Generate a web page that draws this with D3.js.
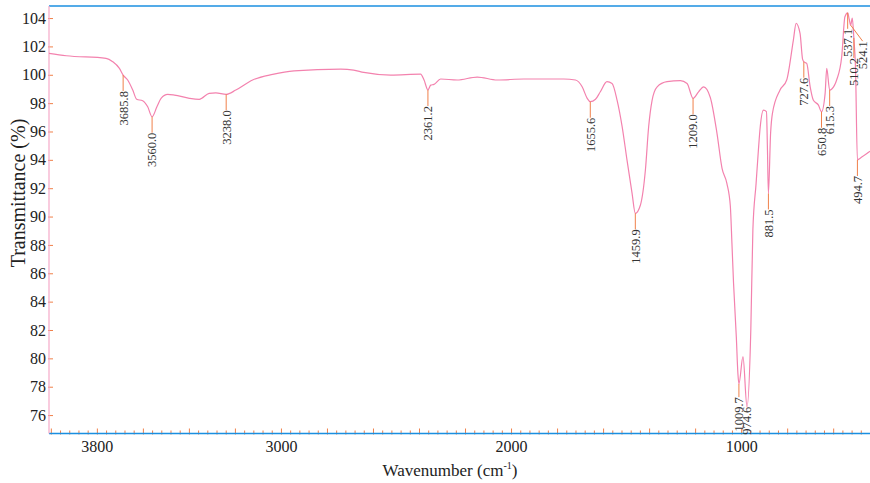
<!DOCTYPE html>
<html>
<head>
<meta charset="utf-8">
<script src="https://cdn.jsdelivr.net/npm/d3@7"></script>
<style>
  body { margin: 0; background: #fff; }
  svg { display: block; }
  text { font-family: "Liberation Serif", "Times New Roman", serif; }
</style>
</head>
<body>
<svg id="chart" width="870" height="483"></svg>
<script>
// spectrum (wavenumber in cm-1, transmittance in %)
const wavenumber = [
    4008, 3933, 3760, 3731, 3702, 3685.8, 3666, 3644, 3627, 3601, 3579, 3560.0, 3539, 3521,
    3492, 3463, 3398, 3355, 3312, 3283, 3238.0, 3196, 3123, 3036, 2943, 2740, 2684, 2640,
    2523, 2393, 2378, 2361.2, 2349, 2335, 2306, 2234, 2147, 2060, 1944, 1771, 1720, 1691,
    1669, 1655.6, 1633, 1612, 1583, 1561, 1539, 1517, 1496, 1474, 1459.9, 1438, 1416, 1402,
    1387, 1365, 1322, 1264, 1235, 1209.0, 1185, 1163, 1134, 1105, 1083, 1062, 1047, 1040,
    1033, 1021, 1014, 1009.7, 992, 974.6, 958, 949, 935, 925, 917, 903, 890, 886, 881.5,
    872, 864, 831, 802, 773, 761, 744, 733, 727.6, 715, 700, 686, 664, 650.8, 635, 628,
    615.3, 606, 585, 563, 549, 537.1, 530, 524.1, 517, 510.2, 503, 494.7, 484, 440
];
const transmittance = [
    101.51, 101.34, 101.16, 100.92, 100.45, 99.98, 99.63, 98.92, 98.27, 98.17, 97.74, 97.04, 97.74, 98.34,
    98.62, 98.57, 98.34, 98.27, 98.69, 98.73, 98.62, 98.92, 99.63, 100.03, 100.28, 100.40, 100.33, 100.17,
    99.98, 100.05, 99.63, 98.92, 99.27, 99.32, 99.70, 99.63, 99.84, 99.63, 99.70, 99.70, 99.63, 99.15,
    98.34, 98.10, 98.27, 98.80, 99.51, 99.39, 98.20, 96.33, 93.98, 91.63, 90.23, 90.80, 93.30, 96.33,
    98.20, 99.15, 99.51, 99.58, 99.39, 98.34, 98.80, 99.15, 98.40, 95.87, 93.40, 92.34, 90.74, 88.11,
    85.29, 81.52, 78.90, 78.20, 80.12, 76.59, 82.00, 89.05, 92.34, 94.70, 96.33, 97.50, 97.40, 95.00, 91.63,
    95.87, 97.28, 98.92, 99.63, 102.45, 103.63, 102.92, 101.10, 100.92, 100.80, 99.15, 98.20, 97.86, 97.39, 98.69, 100.45,
    98.92, 99.00, 99.63, 101.27, 104.09, 104.37, 103.90, 103.50, 104.00, 102.60, 100.50, 93.99, 94.10, 94.60
];

// picked peaks
const peakWavenumbers = [3685.8, 3560.0, 3238.0, 2361.2, 1655.6, 1459.9, 1209.0, 1009.7, 974.6,
    881.5, 727.6, 650.8, 615.3, 537.1, 524.1, 510.2, 494.7];
const peakLabels = ['3685.8', '3560.0', '3238.0', '2361.2', '1655.6', '1459.9', '1209.0', '1009.7', '974.6',
    '881.5', '727.6', '650.8', '615.3', '537.1', '524.1', '510.2', '494.7'];

// axes
const xDomain = [4008, 440];
const yDomain = [74.70, 104.85];
const xTickLabels = [3800, 3000, 2000, 1000];
const yTickLabels = [76, 78, 80, 82, 84, 86, 88, 90, 92, 94, 96, 98, 100, 102, 104];

class SpectrumChart {

    constructor(_config) {
        this.config = {
            parentElement: _config.parentElement,
            width: 870,
            height: 483,
            margin: { top: 6, right: 0, bottom: 49.5, left: 49 }
        };
        this.lineColor = '#f382ae';
        this.tickColor = '#f0804a';
        this.frameColor = '#1b8fe0';
        this.font = '"Liberation Serif", "Times New Roman", serif';
    }

    initVis() {
        let vis = this;
        const m = vis.config.margin;

        vis.svg = d3.select(vis.config.parentElement);
        vis.left = m.left;
        vis.right = vis.config.width - m.right;
        vis.top = m.top;
        vis.bottom = vis.config.height - m.bottom;

        vis.x = d3.scaleLinear().domain(xDomain).range([vis.left, vis.right]);
        vis.y = d3.scaleLinear().domain(yDomain).range([vis.bottom, vis.top]);

        vis.data = wavenumber.map((w, i) => ({ wn: w, t: transmittance[i] }));

        vis.renderAxes();
        vis.renderVis();
        vis.renderLabels();
    }

    renderAxes() {
        let vis = this;

        // minor ticks every 40, major every 200 (no labels on these)
        const minor = d3.range(480, 4001, 40).filter(v => v % 200 !== 0);
        const major = d3.range(600, 4001, 200);

        [[minor, -3], [major, -5]].forEach(([vals, size]) => {
            const g = vis.svg.append('g')
                .attr('transform', `translate(0,${vis.bottom})`)
                .call(d3.axisBottom(vis.x).tickValues(vals).tickSize(size).tickFormat(''));
            g.select('.domain').remove();
            g.selectAll('.tick line').attr('stroke', vis.tickColor).attr('y1', 1);
        });

        const xLab = vis.svg.append('g')
            .attr('transform', `translate(0,${vis.bottom})`)
            .call(d3.axisBottom(vis.x).tickValues(xTickLabels).tickSize(0).tickPadding(7)
                .tickFormat(d3.format('d')));
        xLab.select('.domain').remove();
        xLab.selectAll('text').attr('font-size', 16).attr('fill', '#222')
            .style('font-family', vis.font);

        const yAx = vis.svg.append('g')
            .attr('transform', `translate(${vis.left},0)`)
            .call(d3.axisLeft(vis.y).tickValues(yTickLabels).tickSize(-4).tickPadding(3));
        yAx.select('.domain').remove();
        yAx.selectAll('.tick line').attr('stroke', vis.tickColor).attr('x1', -1);
        yAx.selectAll('text').attr('font-size', 16).attr('fill', '#222')
            .style('font-family', vis.font);

        // frame: blue top & bottom, pink left
        vis.svg.append('line')
            .attr('x1', vis.left).attr('x2', vis.right)
            .attr('y1', vis.bottom).attr('y2', vis.bottom)
            .attr('stroke', vis.frameColor).attr('stroke-width', 1.3);
        vis.svg.append('line')
            .attr('x1', vis.left).attr('x2', vis.right)
            .attr('y1', vis.top).attr('y2', vis.top)
            .attr('stroke', vis.frameColor).attr('stroke-width', 1.3);
        vis.svg.append('line')
            .attr('x1', vis.left).attr('x2', vis.left)
            .attr('y1', vis.top).attr('y2', vis.bottom)
            .attr('stroke', '#f5a9c8').attr('stroke-width', 1.2);

        // axis titles
        vis.svg.append('text')
            .attr('transform', 'translate(25,193) rotate(-90)')
            .attr('text-anchor', 'middle')
            .attr('font-size', 20)
            .attr('fill', '#222')
            .style('font-family', vis.font)
            .text('Transmittance (%)');

        const xt = vis.svg.append('text')
            .attr('x', 450).attr('y', 476)
            .attr('text-anchor', 'middle')
            .attr('font-size', 17)
            .attr('fill', '#222')
            .style('font-family', vis.font);
        xt.append('tspan').text('Wavenumber (cm');
        xt.append('tspan').attr('font-size', 10).attr('dy', -7).text('-1');
        xt.append('tspan').attr('dy', 7).text(')');
    }

    renderVis() {
        let vis = this;

        vis.line = d3.line()
            .x(d => vis.x(d.wn))
            .y(d => vis.y(d.t))
            .curve(d3.curveMonotoneX);

        vis.svg.append('path')
            .datum(vis.data)
            .attr('fill', 'none')
            .attr('stroke', vis.lineColor)
            .attr('stroke-width', 1.2)
            .attr('stroke-linejoin', 'round')
            .attr('d', vis.line);
    }

    // transmittance at a given wavenumber (linear between read points)
    valueAt(wn) {
        let vis = this;
        const i = vis.data.findIndex(d => d.wn <= wn);
        if (i <= 0) return vis.data[0].t;
        const a = vis.data[i - 1], b = vis.data[i];
        return a.t + (b.t - a.t) * (a.wn - wn) / (a.wn - b.wn);
    }

    renderLabels() {
        let vis = this;
        const layer = vis.svg.append('g');
        const placed = [];
        const half = 4;
        const lead = 16;
        const nudge = 12;

        const hits = (tx, top, len) => placed.filter(b =>
            Math.abs(b.x - tx) < 2 * half && top < b.bottom && top + len > b.top);

        peakLabels.forEach((label, i) => {
            const wn = peakWavenumbers[i];
            const px = vis.x(wn);
            const py = vis.y(vis.valueAt(wn));

            const text = layer.append('text')
                .attr('font-size', 12.5)
                .attr('fill', '#333')
                .attr('text-anchor', 'end')
                .attr('dy', '0.35em')
                .style('font-family', vis.font)
                .text(label);
            const len = text.node().getComputedTextLength();

            let tx = px;
            let top = py + Math.max(0, Math.min(lead, vis.bottom - 2 - len - py));

            // crowded peaks: try a nudge to the right first, else push the label down
            if (hits(tx, top, len).length) {
                if (px + nudge + half <= vis.right && !hits(px + nudge, top, len).length) {
                    tx = px + nudge;
                } else {
                    let h = hits(tx, top, len);
                    while (h.length) {
                        top = d3.max(h, b => b.bottom) + 1;
                        h = hits(tx, top, len);
                    }
                }
            }
            placed.push({ x: tx, top: top, bottom: top + len });

            layer.insert('line', 'text')
                .attr('x1', px).attr('y1', py)
                .attr('x2', tx).attr('y2', top)
                .attr('stroke', vis.tickColor)
                .attr('stroke-width', 1);

            text.attr('transform', `translate(${tx},${top}) rotate(-90)`);
        });
    }
}

let chart = new SpectrumChart({ parentElement: '#chart' });
chart.initVis();
</script>
</body>
</html>
